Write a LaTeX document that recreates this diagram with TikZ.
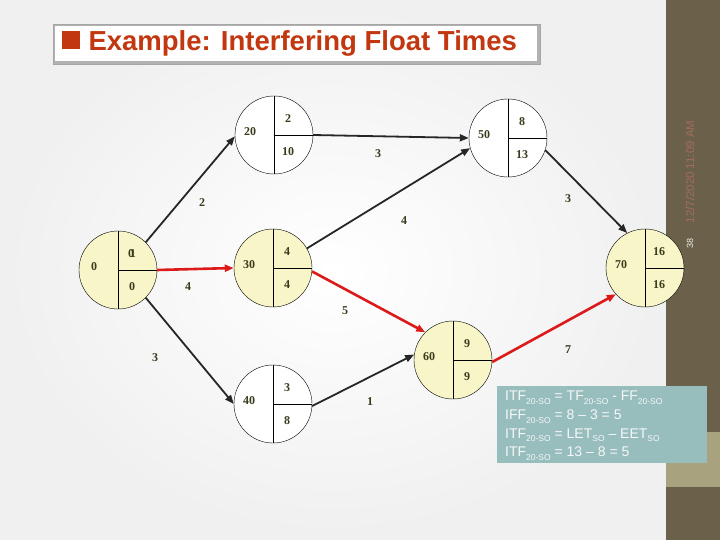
\documentclass[tikz,border=0pt]{standalone}
\usepackage{fontspec}
\setmainfont{Liberation Serif}
\newfontfamily\slidefont{Liberation Sans}
\usepackage{tikz}
\usetikzlibrary{positioning,arrows.meta}

\definecolor{evyellow}{HTML}{F8F6C8}
\definecolor{actred}{HTML}{DD1A1A}
\definecolor{actblack}{HTML}{262626}
\definecolor{numcol}{HTML}{3A3A1C}
\definecolor{bandolive}{HTML}{6B614A}
\definecolor{bandkhaki}{HTML}{A9A27E}
\definecolor{noteteal}{HTML}{97BDBD}
\definecolor{titlered}{HTML}{C2370F}
\definecolor{datecol}{HTML}{A36B5E}

\tikzset{
  event/.style={circle,draw,thin,minimum size=78pt,inner sep=0pt},
  num/.style={font=\fontsize{12}{13}\selectfont\bfseries,text=numcol,inner sep=0pt},
  act/.style={-{Triangle[length=9pt,width=7pt]},line width=1.8pt,draw=actblack},
  crit/.style={act,draw=actred,line width=2.6pt},
}

% event circle: name, x, y, fill, id, early, late
\newcommand\evcircle[7]{%
  \node[event,fill=#4] (#1) at (#2,#3) {};
  \draw[thin] (#1.north) -- (#1.south) (#1.center) -- (#1.east);
  \node[num] (#1id) at ([xshift=-24pt,yshift=3pt]#1.center) {#5};
  \node[num] (#1es) at ([xshift=14pt,yshift=16pt]#1.center) {#6};
  \node[num] (#1ls) at ([xshift=14pt,yshift=-17pt]#1.center) {#7};
}
% small lowered index in the note
\newcommand\subtxt[1]{\raisebox{-3.5pt}{\fontsize{8.5}{9}\selectfont #1}}

\begin{document}
\begin{tikzpicture}[x=1pt,y=-1pt]
  % slide background
  \useasboundingbox (0,0) rectangle (720,540);
  \shade[inner color=white,outer color=gray!12] (0,0) rectangle (666,540);
  \fill[bandolive] (666,0) rectangle (720,540);
  \fill[bandkhaki] (666,432) rectangle (720,487);
  \node[rotate=90,text=datecol,font=\slidefont\fontsize{11.5}{13}\selectfont] (date) at (690,172) {12/7/2020 11:09 AM};
  \node[rotate=90,text=white!85!gray,font=\slidefont\fontsize{9}{10}\selectfont] (page) at (690,243) {38};

  % title box
  \fill[gray!60] (53,24) rectangle (540,64);
  \fill[white] (55,26) rectangle (537,61);
  \draw[gray!70,thin] (53,24) rectangle (540,64);
  \fill[titlered] (62,31) rectangle (80,49);
  \node[anchor=west,text=titlered,font=\slidefont\fontsize{27.5}{30}\selectfont\bfseries] (title) at (85,43) {Example: Interfering Float Times};

  % events
  \evcircle{n10}{118}{270}{evyellow}{0}{\rlap{0}\kern1.6pt1}{0}
  \evcircle{n20}{274}{135}{white}{20}{2}{10}
  \evcircle{n50}{508}{138}{white}{50}{8}{13}
  \evcircle{n30}{273}{268}{evyellow}{30}{4}{4}
  \evcircle{n70}{645}{268}{evyellow}{70}{16}{16}
  \evcircle{n60}{453}{360}{evyellow}{60}{9}{9}
  \evcircle{n40}{273}{404}{white}{40}{3}{8}

  % activities
  \draw[act] (n10.45) -- (n20.182);
  \draw[act] (n10.-45) -- (n40.180);
  \draw[crit] (n10.east) -- (n30.west);
  \draw[act] (n20.east) -- (n50.180);
  \draw[act] (n30.30) -- (n50.195);
  \draw[crit] (n30.-5) -- (n60.135);
  \draw[act] (n50.-18) -- (n70.117);
  \draw[crit] (n60.-3) -- (n70.222);
  \draw[act] (n40.-3) -- (n60.172);

  % durations
  \node[num] (d1020) at (202,203) {2};
  \node[num] (d1040) at (155,358) {3};
  \node[num] (d1030) at (188,287) {4};
  \node[num] (d2050) at (378,154) {3};
  \node[num] (d3050) at (404,221) {4};
  \node[num] (d3060) at (345,311) {5};
  \node[num] (d5070) at (568,199) {3};
  \node[num] (d6070) at (568,350) {7};
  \node[num] (d4060) at (370,402) {1};

  % note
  \fill[noteteal] (497,386) rectangle (707,463);
  \node[anchor=north west,align=left,text=white!94!gray,inner sep=0pt,
        font=\slidefont\fontsize{14}{18.7}\selectfont] (note) at (505,391)
    {ITF\subtxt{20-SO} = TF\subtxt{20-SO} - FF\subtxt{20-SO}\\
     IFF\subtxt{20-SO} = 8 – 3 = 5\\
     ITF\subtxt{20-SO} = LET\subtxt{SO} – EET\subtxt{SO}\\
     ITF\subtxt{20-SO} = 13 – 8 = 5};
\end{tikzpicture}
\end{document}
